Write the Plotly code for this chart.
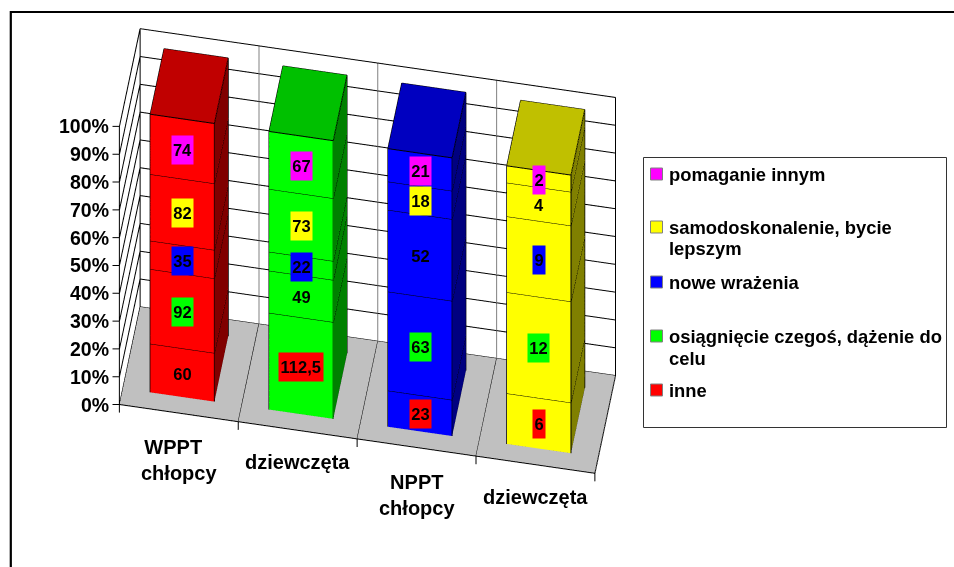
import plotly.graph_objects as go

categories = ["WPPT\u00a0\u00a0<br>chłopcy", "dziewczęta", "NPPT<br>chłopcy", "dziewczęta"]
series = ["inne", "osiągnięcie czegoś, dążenie do celu", "nowe wrażenia",
          "samodoskonalenie, bycie lepszym", "pomaganie innym"]
inne = [60, 112.5, 23, 6]
osiagniecie = [92, 49, 63, 12]
nowe = [35, 22, 52, 9]
samodoskonalenie = [82, 73, 18, 4]
pomaganie = [74, 67, 21, 2]
value_labels = [
    ["60", "112,5", "23", "6"],
    ["92", "49", "63", "12"],
    ["35", "22", "52", "9"],
    ["82", "73", "18", "4"],
    ["74", "67", "21", "2"],
]
tick_values = [0, 10, 20, 30, 40, 50, 60, 70, 80, 90, 100]

series_colors = ["#FF0000", "#00FF00", "#0000FF", "#FFFF00", "#FF00FF"]
bar_front = ["#FF0000", "#00FF00", "#0000FF", "#FFFF00"]
bar_top = ["#C00000", "#00C000", "#0000C0", "#C0C000"]
bar_side = ["#800000", "#008000", "#000080", "#808000"]

stack = [inne, osiagniecie, nowe, samodoskonalenie, pomaganie]

U0, U1 = 0.23, 0.77
D0, D1 = 0.165, 0.835

fig = go.Figure()


def lines(segments, color="#000000", width=2):
    xs, ys, zs = [], [], []
    for a, b in segments:
        xs += [a[0], b[0], None]
        ys += [a[1], b[1], None]
        zs += [a[2], b[2], None]
    fig.add_trace(go.Scatter3d(x=xs, y=ys, z=zs, mode="lines",
                               line=dict(color=color, width=width),
                               hoverinfo="skip", showlegend=False))


# floor
fig.add_trace(go.Mesh3d(x=[0, 4, 4, 0], y=[0, 0, 1, 1], z=[0, 0, 0, 0],
                        i=[0, 0], j=[1, 2], k=[2, 3], color="#C0C0C0", flatshading=True,
                        lighting=dict(ambient=1, diffuse=0, specular=0, fresnel=0),
                        hoverinfo="skip", showlegend=False))

grid = []
for t in tick_values:
    grid.append(((0, 1, t), (4, 1, t)))
    grid.append(((0, 0, t), (0, 1, t)))
    # tick mark, horizontal on screen
    grid.append(((0, 0, t), (-0.057, -0.01, t)))
grid += [((0, 0, 0), (0, 0, 100)), ((0, 1, 0), (0, 1, 100)), ((4, 1, 0), (4, 1, 100)),
         ((0, 0, 0), (4, 0, 0)), ((4, 0, 0), (4, 1, 0))]
for u in range(5):
    if u < 4:
        grid.append(((u, 0, 0), (u, 1, 0)))
    grid.append(((u, 0, 0), (u, 0, -2.9)))
lines(grid)
lines([((u, 1, 0), (u, 1, 100)) for u in (1, 2, 3)], color="#808080")

# bars
for c in range(4):
    totals = sum(s[c] for s in stack)
    bottom = 0.0
    x, y, z, i, j, k, fc, seg = [], [], [], [], [], [], [], []
    for s in range(5):
        top = bottom + stack[s][c] / totals * 100
        a, b = c + U0, c + U1
        n = len(x)
        x += [a, b, b, a, a, b, b, a]
        y += [D0, D0, D1, D1, D0, D0, D1, D1]
        z += [bottom] * 4 + [top] * 4
        # front
        i += [n, n]; j += [n + 1, n + 5]; k += [n + 5, n + 4]; fc += [bar_front[c]] * 2
        # right side
        i += [n + 1, n + 1]; j += [n + 2, n + 6]; k += [n + 6, n + 5]; fc += [bar_side[c]] * 2
        # top
        i += [n + 4, n + 4]; j += [n + 5, n + 6]; k += [n + 6, n + 7]; fc += [bar_top[c] if s == 4 else bar_front[c]] * 2
        seg += [((a, D0, top), (b, D0, top)), ((b, D0, top), (b, D1, top)),
                ((a, D0, bottom), (a, D0, top)), ((b, D0, bottom), (b, D0, top)),
                ((b, D1, bottom), (b, D1, top))]
        bottom = top
    a, b = c + U0, c + U1
    seg += [((a, D0, 0), (b, D0, 0)), ((b, D0, 0), (b, D1, 0)),
            ((a, D0, 100), (a, D1, 100)), ((a, D1, 100), (b, D1, 100))]
    fig.add_trace(go.Mesh3d(x=x, y=y, z=z, i=i, j=j, k=k, facecolor=fc, flatshading=True,
                            lighting=dict(ambient=1, diffuse=0, specular=0, fresnel=0),
                            hoverinfo="skip", showlegend=False))
    lines(seg)

# annotations in the scene
ann = []
for s in range(5):
    for c in range(4):
        totals = sum(q[c] for q in stack)
        below = sum(stack[q][c] for q in range(s)) / totals * 100
        mid = below + stack[s][c] / totals * 50
        txt = value_labels[s][c]
        box = 1 + 9 * sum(ch.isdigit() for ch in txt) + 4.5 * txt.count(",")
        ann.append(dict(x=c + 0.5, y=D0, z=mid, text="<b>%s</b>" % txt, showarrow=False,
                        bgcolor=series_colors[s], width=box, height=26, yshift=-1,
                        font=dict(family="Liberation Sans", size=16.5, color="#000000"),
                        xanchor="center", yanchor="middle"))
for t in tick_values:
    ann.append(dict(x=0, y=0, z=t, text="<b>%d%%</b>" % t, showarrow=False, xanchor="right",
                    yanchor="middle", xshift=-8.5,
                    font=dict(family="Liberation Sans", size=19.5, color="#000000")))
for c, lab in enumerate(categories):
    ann.append(dict(x=c + 0.5, y=0, z=0, text="<b>%s</b>" % lab, showarrow=False, xanchor="center",
                    yanchor="middle", yshift=-47 if "<br>" in lab else -32,
                    font=dict(family="Liberation Sans", size=20, color="#000000")))

hidden = dict(visible=False, showgrid=False, zeroline=False, showticklabels=False, showspikes=False)
D = 1.0
SCALE = 1.923
fig.update_layout(
    width=954, height=567, margin=dict(l=0, r=0, t=0, b=0), paper_bgcolor="#FFFFFF",
    showlegend=False,
    scene=dict(
        domain=dict(x=[0, 735 / 954], y=[65 / 567, 1]),
        xaxis=dict(range=[-0.2, 4.2], **hidden),
        yaxis=dict(range=[-0.1, 1.1], **hidden),
        zaxis=dict(range=[-5, 105], **hidden),
        aspectmode="manual",
        aspectratio=dict(x=1.1 * SCALE, y=0.298 * SCALE, z=1.129 * SCALE),
        camera=dict(projection=dict(type="orthographic"),
                    eye=dict(x=0.0967 * D, y=-0.5531 * D, z=0.8275 * D),
                    center=dict(x=0, y=0, z=0), up=dict(x=0, y=0, z=1)),
        annotations=ann,
    ),
)

# frame and legend box
PX, PY = 1 / 954, 1 / 567
def rect(x0, y0, x1, y1, line, fill=None, w=1):
    fig.add_shape(type="rect", xref="paper", yref="paper", x0=x0 * PX, x1=x1 * PX,
                  y0=1 - y0 * PY, y1=1 - y1 * PY, line=dict(color=line, width=w),
                  fillcolor=fill)

rect(10.8, 12, 990, 600, "#000000", w=2.2)
rect(643.5, 157.5, 946.5, 427.5, "#333333", "#FFFFFF")
legend_rows = [(["pomaganie innym"], 4, 174), (["samodoskonalenie, bycie", "lepszym"], 3, 227),
               (["nowe wrażenia"], 2, 282), (["osiągnięcie czegoś, dążenie do", "celu"], 1, 336),
               (["inne"], 0, 390)]
for parts, s, yc in legend_rows:
    rect(650.5, yc - 6, 662.5, yc + 6, "#808080", series_colors[s])
    for n, part in enumerate(parts):
        fig.add_annotation(xref="paper", yref="paper", x=667 * PX, y=1 - (yc + 22 * n) * PY,
                           xanchor="left", yanchor="middle", align="left", showarrow=False,
                           text="<b>%s</b>" % part,
                           font=dict(family="Liberation Sans", size=18.4, color="#000000"))

fig.write_html("out.html", config=dict(displayModeBar=False),
               post_script="document.body.style.margin='0';document.body.style.overflow='hidden';")
